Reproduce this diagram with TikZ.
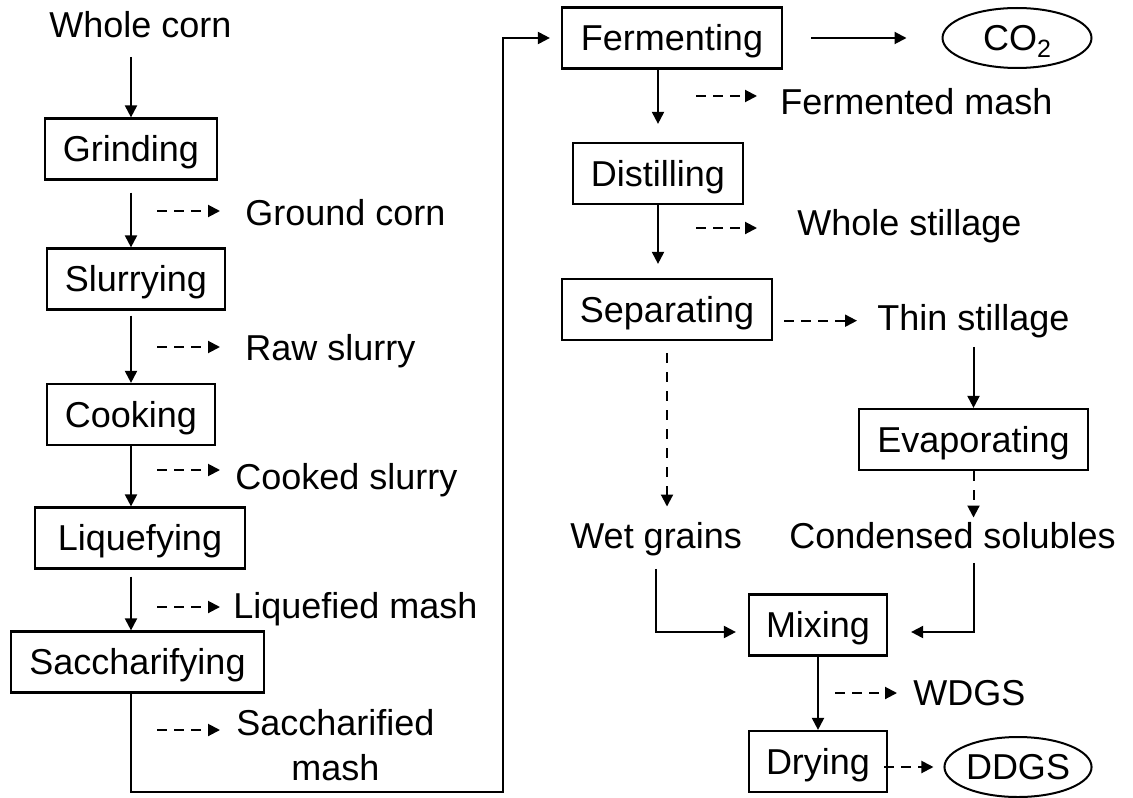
\documentclass[tikz,border=0pt]{standalone}
\usepackage{fontspec}
\setmainfont{Liberation Sans}
\usetikzlibrary{arrows.meta,shapes.geometric}

\tikzset{
  proc/.style={draw, line width=1.1pt, minimum height=30.5pt, inner sep=0pt, text height=12.9pt, text depth=0pt},
  prod/.style={inner sep=0pt, anchor=base west},
  outp/.style={draw, ellipse, line width=1pt, minimum width=74.5pt, minimum height=30pt, inner sep=0pt, text height=12.9pt, text depth=0pt},
  flow/.style={line width=1pt, -{Triangle[length=6pt,width=6pt]}},
  side/.style={flow, dash pattern=on 5pt off 3.5pt},
  vside/.style={flow, dash pattern=on 5pt off 4.5pt},
}

\begin{document}
\begin{tikzpicture}[x=0.5pt, y=-0.5pt, font=\fontsize{18pt}{22.5pt}\selectfont]
     \useasboundingbox (0,0) rectangle (1133,797);
     % left column
     \node[prod] (corn) at (49,38) {Whole corn};
     \node[proc, minimum width=86pt] (grind) at (131,149) {Grinding};
     \node[proc, minimum width=89pt] (slurry) at (136,279) {Slurrying};
     \node[proc, minimum width=84pt] (cook) at (131,414.5) {Cooking};
     \node[proc, minimum width=105pt] (liquefy) at (140,538) {Liquefying};
     \node[proc, minimum width=126.5pt] (sacch) at (137.5,662) {Saccharifying};
     \node[prod] (ground) at (245,225) {Ground corn};
     \node[prod] (raw) at (245,360) {Raw slurry};
     \node[prod] (cooked) at (235,489) {Cooked slurry};
     \node[prod] (liqmash) at (233,618) {Liquefied mash};
     \node[inner sep=0pt, align=center, anchor=north west] (sacmash) at (236,709) {Saccharified\\mash};
     \coordinate (loop) at (503,792);
     % right column
     \node[proc, minimum width=110pt] (ferment) at (672,38) {Fermenting};
     \node[outp] (co2) at (1017,38) {CO\raisebox{-3.5pt}{\fontsize{12.5pt}{12.5pt}\selectfont 2}};
     \node[prod] (fermash) at (780,114) {Fermented mash};
     \node[proc, minimum width=85pt] (distill) at (658,173.5) {Distilling};
     \node[prod] (whole) at (797,235) {Whole stillage};
     \node[proc, minimum width=105pt] (separate) at (667,309.5) {Separating};
     \node[prod] (thin) at (877,330) {Thin stillage};
     \node[proc, minimum width=114.5pt] (evap) at (973.5,439.5) {Evaporating};
     \node[prod] (wet) at (570,548) {Wet grains};
     \node[prod] (cond) at (789,548) {Condensed solubles};
     \node[proc, minimum width=69pt] (mix) at (818,625) {Mixing};
     \node[prod] (wdgs) at (913,705) {WDGS};
     \node[proc, minimum width=69pt] (dry) at (818,761.5) {Drying};
     \node[outp, minimum width=73.5pt] (ddgs) at (1018,767) {DDGS};
     % main flow, left
     \draw[flow, shorten <=9pt] (grind.north |- corn.south) -- (grind.north);
     \draw[flow, shorten <=6pt] (grind.south) -- (grind.south |- slurry.north);
     \draw[flow, shorten <=2.5pt] (slurry.south -| grind.south) -- (grind.south |- cook.north);
     \draw[flow] (cook.south) -- (cook.south |- liquefy.north);
     \draw[flow, shorten <=3.5pt] (liquefy.south -| cook.south) -- (cook.south |- sacch.north);
     \draw[flow, shorten >=5.5pt] (sacch.south -| cook.south) |- (loop) |- (ferment.west);
     % products, left
     \draw[side] (ground.base west) ++(-88,-14) -- ++(63,0);
     \draw[side] (raw.base west) ++(-88,-13) -- ++(63,0);
     \draw[side] (cooked.base west) ++(-78,-19) -- ++(63,0);
     \draw[side] (liqmash.base west) ++(-76,-11) -- ++(63,0);
     \draw[side] (sacmash.north west) ++(-79,21) -- ++(63,0);
     % main flow, right
     \draw[flow, shorten <=14pt, shorten >=17.5pt] (ferment) -- (co2);
     \draw[flow, shorten >=9pt] (ferment.south -| distill.north) -- (distill.north);
     \draw[flow, shorten >=7pt] (distill.south) -- (distill.south |- separate.north);
     \draw[side, shorten <=5.5pt, shorten >=10pt] (separate.east |- thin.west) -- (thin.west);
     \draw[flow, shorten <=4.5pt] (thin.south -| evap.north) -- (evap.north);
     \draw[vside, shorten >=2pt] (evap.south) -- (evap.south |- cond.north);
     \draw[vside, shorten <=6pt, shorten >=7.5pt] (separate.south) -- (separate.south |- wet.north);
     \draw[flow, shorten <=6.5pt, shorten >=6pt] (wet.south) |- ([yshift=-3.5pt]mix.west);
     \draw[flow, shorten <=7pt, shorten >=11.5pt] (cond.south -| evap.south) |- ([yshift=-3.5pt]mix.east);
     \draw[flow] (mix) -- (dry);
     \draw[side, shorten <=-2pt, shorten >=5pt] (dry.east |- ddgs.west) -- (ddgs.west);
     % products, right
     \draw[side] (fermash.base west) ++(-84,-18) -- ++(61,0);
     \draw[side] (whole.base west) ++(-101,-7) -- ++(61,0);
     \draw[side] (wdgs.base west) ++(-78,-12) -- ++(62,0);
\end{tikzpicture}
\end{document}
